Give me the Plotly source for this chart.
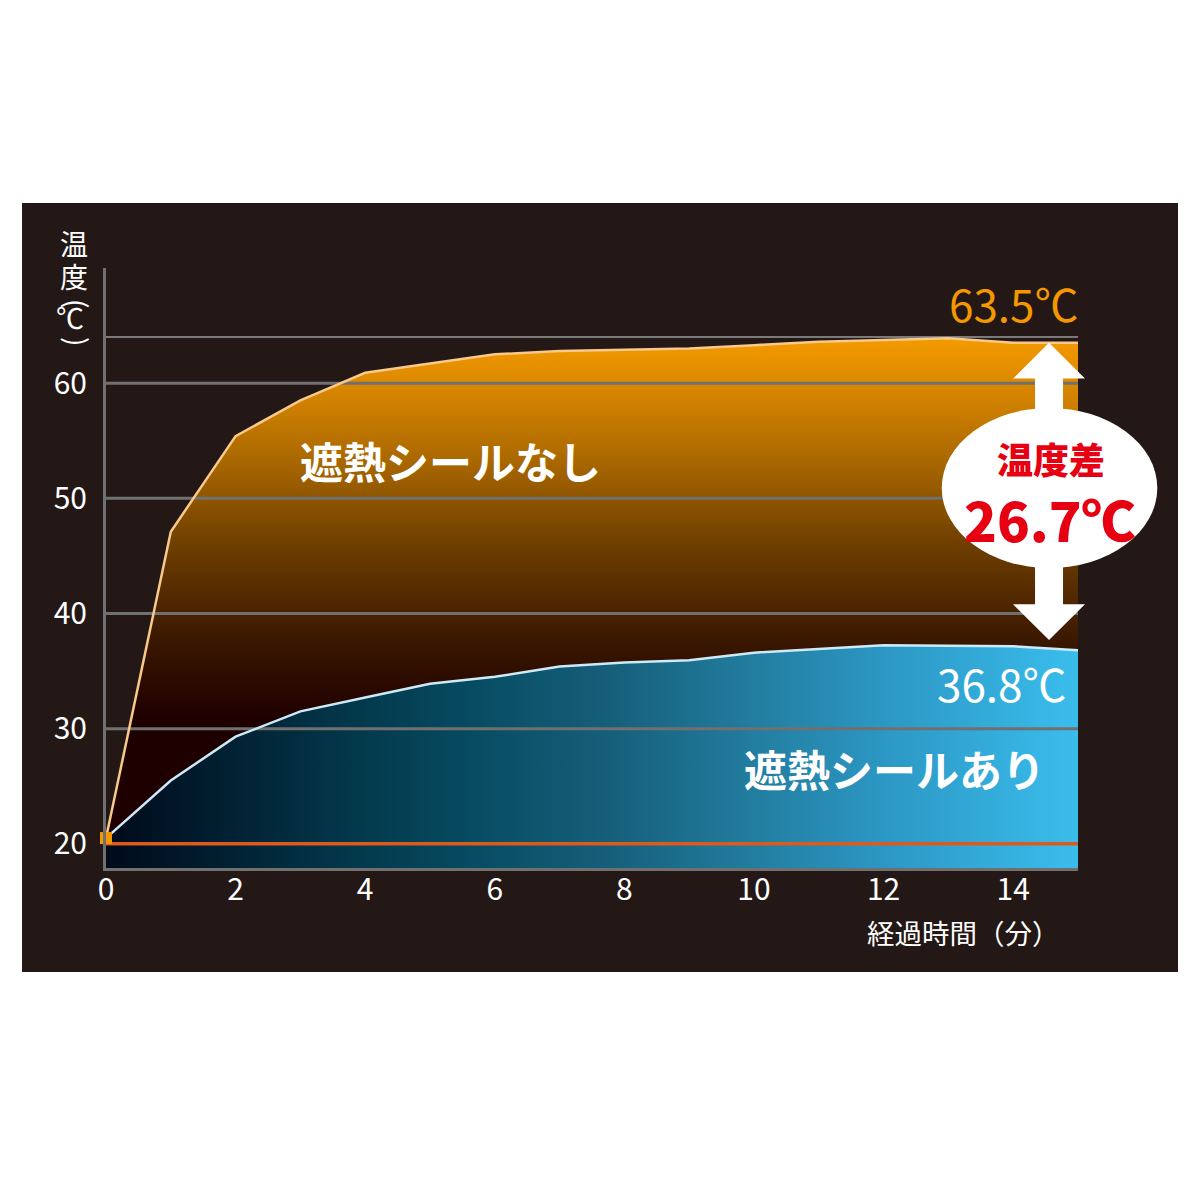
import plotly.graph_objects as go

# ---- data ----
minutes = list(range(16))
no_seal = [20.5, 47.1, 55.4, 58.5, 60.9, 61.7, 62.5, 62.8, 62.9, 63.0, 63.3, 63.6, 63.75, 63.9, 63.5, 63.5]
with_seal = [20.5, 25.5, 29.3, 31.5, 32.7, 33.9, 34.5, 35.4, 35.75, 35.95, 36.6, 36.9, 37.25, 37.2, 37.15, 36.8]
start_temp = 20
grid_vals = [30, 40, 50, 60]
top_line = 64
y_ticks = [20, 30, 40, 50, 60]
x_ticks = [0, 2, 4, 6, 8, 10, 12, 14]
label_no = "遮熱シールなし"
label_with = "遮熱シールあり"
y_title_chars = ["温", "度", "(", "℃", ")"]
x_title = "経過時間（分）"
diff_title = "温度差"

FONT = "Noto Sans CJK JP"
BG = "#231815"
GRID = "#707070"

X_RANGE = [0, 15]
Y_RANGE = [17.9, 70]

fig = go.Figure()

# gradient fills
fig.add_trace(go.Scatter(
    x=minutes, y=no_seal, mode="lines", line=dict(width=0),
    fill="tozeroy",
    fillgradient=dict(type="vertical", start=31, stop=64,
                      colorscale=[[0, "#1e0000"], [0.2, "#3a1700"], [0.45, "#6e3e00"],
                                  [0.7, "#b06c00"], [0.88, "#dc8900"], [1, "#f59b00"]]),
    hoverinfo="skip", showlegend=False))
fig.add_trace(go.Scatter(
    x=minutes, y=with_seal, mode="lines", line=dict(width=0),
    fill="tozeroy",
    fillgradient=dict(type="horizontal", start=0, stop=15,
                      colorscale=[[0, "#000a1a"], [0.25, "#03374a"], [0.38, "#074c62"],
                                  [0.52, "#165f7b"], [0.65, "#217a9b"], [0.8, "#2c97c4"],
                                  [1, "#3abdec"]]),
    hoverinfo="skip", showlegend=False))

# grid lines drawn above the fills
for g in grid_vals:
    fig.add_trace(go.Scatter(x=X_RANGE, y=[g, g], mode="lines",
                             line=dict(color=GRID, width=3), hoverinfo="skip", showlegend=False))
fig.add_trace(go.Scatter(x=X_RANGE, y=[top_line, top_line], mode="lines",
                         line=dict(color="#7a7a7a", width=2), hoverinfo="skip", showlegend=False))
fig.add_trace(go.Scatter(x=X_RANGE, y=[start_temp, start_temp], mode="lines",
                         line=dict(color="#dc5a1e", width=3.5), hoverinfo="skip", showlegend=False))

# curves
fig.add_trace(go.Scatter(x=minutes, y=no_seal, mode="lines",
                         line=dict(color="#f8c98a", width=2.5), hoverinfo="skip", showlegend=False))
fig.add_trace(go.Scatter(x=minutes, y=with_seal, mode="lines",
                         line=dict(color="#cfeaf7", width=2.5), hoverinfo="skip", showlegend=False))
fig.add_trace(go.Scatter(x=[minutes[0]], y=[no_seal[0]], mode="markers",
                         marker=dict(symbol="square", color="#f39800", size=12),
                         cliponaxis=False, hoverinfo="skip", showlegend=False))

# ---- decorations ----
shapes = []
shapes.append(dict(type="rect", xref="paper", yref="paper", x0=-0.0864, x1=1.1029,
                   y0=-0.1733, y1=1.1083, fillcolor=BG, line=dict(width=0), layer="below"))

ax = 0.9702
shaft = 0.0144
head = 0.037
head_h = 3.1
gap = 0.9
top = no_seal[-1]
bot = with_seal[-1] + gap
path = (f"M {ax},{top} L {ax+head},{top-head_h} L {ax+shaft},{top-head_h} "
        f"L {ax+shaft},{bot+head_h} L {ax+head},{bot+head_h} L {ax},{bot} "
        f"L {ax-head},{bot+head_h} L {ax-shaft},{bot+head_h} L {ax-shaft},{top-head_h} "
        f"L {ax-head},{top-head_h} Z")
shapes.append(dict(type="path", xref="paper", yref="y", path=path,
                   fillcolor="white", line=dict(width=0), layer="above"))
shapes.append(dict(type="circle", xref="paper", yref="paper", x0=0.8598, x1=1.0816,
                   y0=0.5, y1=0.7667, fillcolor="white", line=dict(width=0), layer="above"))


def note(x, y, text, size, color, weight="normal", xref="paper", yref="paper", **kw):
    d = dict(x=x, y=y, xref=xref, yref=yref, text=text, showarrow=False,
             xanchor="center", yanchor="middle", borderpad=0,
             font=dict(family=FONT, size=size, color=color, weight=weight))
    d.update(kw)
    return d


annotations = []
annotations.append(note(X_RANGE[1], no_seal[-1], f"{no_seal[-1]}℃", 44, "#f39800",
                        xref="x", yref="y", xanchor="right", yshift=40, xshift=2))
annotations.append(note(X_RANGE[1], with_seal[-1], f"{with_seal[-1]}℃", 44, "white",
                        xref="x", yref="y", xanchor="right", yshift=-33, xshift=-10))
annotations.append(note(0.354, 0.68, label_no, 43, "white", "bold"))
annotations.append(note(0.8117, 0.1667, label_with, 43, "white", "bold"))
annotations.append(note(0.9722, 0.683, diff_title, 36, "#e60012", 900))
annotations.append(note(0.9712, 0.583, f"{no_seal[-1]-with_seal[-1]:.1f}℃", 54, "#e60012", 900))
# vertical y-axis title: stacked characters, parentheses rotated
y_px = [243, 276, 303, 317, 341]
x_px = [74, 74, 78, 70, 78]
for ch, px, py in zip(y_title_chars, x_px, y_px):
    annotations.append(note((px - 106) / 972, (868 - py) / 600, ch, 28, "white",
                            textangle=90 if ch in "()" else 0))
annotations.append(note(0.8827, -0.1067, x_title, 27.5, "white"))

fig.update_layout(
    width=1200, height=1200,
    margin=dict(l=106, r=122, t=268, b=332),
    paper_bgcolor="white", plot_bgcolor=BG,
    shapes=shapes, annotations=annotations,
    xaxis=dict(range=X_RANGE, tickvals=x_ticks, showgrid=False, zeroline=False,
               showline=True, linecolor=GRID, linewidth=3, ticks="",
               ticklabelstandoff=-7,
               tickfont=dict(family=FONT, size=30, color="white")),
    yaxis=dict(range=Y_RANGE, tickvals=y_ticks, showgrid=False, zeroline=False,
               showline=True, linecolor=GRID, linewidth=3, ticks="",
               ticklabelstandoff=10,
               tickfont=dict(family=FONT, size=30, color="white")),
)

fig.write_html("out.html", config={"displayModeBar": False},
               post_script="document.body.style.margin='0';")
